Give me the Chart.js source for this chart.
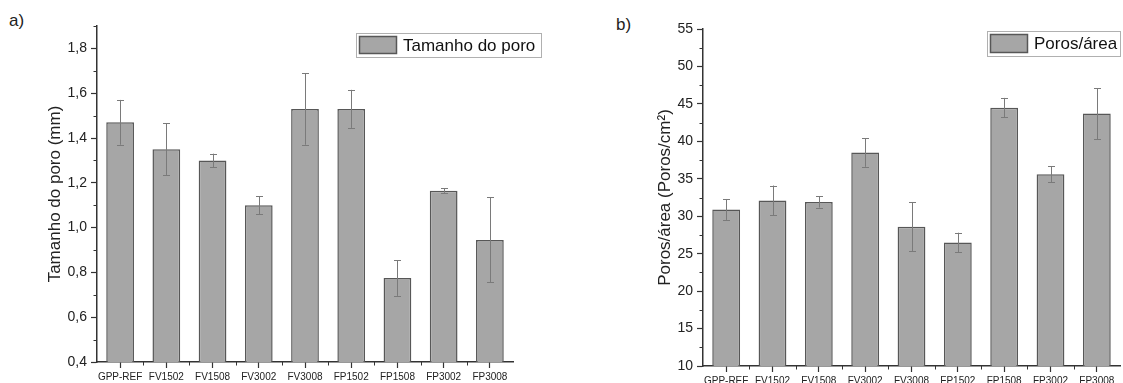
<!DOCTYPE html>
<html>
<head>
<meta charset="utf-8">
<script src="https://cdn.jsdelivr.net/npm/chart.js@4"></script>
<style>
  body { margin: 0; background: #fff; width: 1123px; height: 383px; position: relative; overflow: hidden; }
  canvas { position: absolute; top: 0; }
  .tag { position: absolute; font: 17px "Liberation Sans", Arial, sans-serif; color: #222; }
</style>
</head>
<body>
<div class="tag" style="left:9px; top:11px;">a)</div>
<div class="tag" style="left:616px; top:15px;">b)</div>
<canvas id="chartA" width="560" height="383" style="left:0"></canvas>
<canvas id="chartB" width="563" height="383" style="left:560px"></canvas>
<script>
const categories = ['GPP-REF', 'FV1502', 'FV1508', 'FV3002', 'FV3008', 'FP1502', 'FP1508', 'FP3002', 'FP3008'];

// a) Tamanho do poro (mm)
const poreSize = [1.47, 1.35, 1.30, 1.10, 1.53, 1.53, 0.775, 1.165, 0.945];
const poreSizeErr = [0.10, 0.115, 0.03, 0.04, 0.16, 0.085, 0.08, 0.01, 0.19];
const yTicksA = [0.4, 0.6, 0.8, 1.0, 1.2, 1.4, 1.6, 1.8];

// b) Poros/área (Poros/cm²)
const poresArea = [30.9, 32.1, 31.9, 38.5, 28.6, 26.5, 44.5, 35.6, 43.7];
const poresAreaErr = [1.4, 2.0, 0.75, 1.9, 3.3, 1.3, 1.3, 1.05, 3.4];
const yTicksB = [10, 15, 20, 25, 30, 35, 40, 45, 50, 55];

const FONT = '"Liberation Sans", Arial, sans-serif';
const AXIS = '#333';

// error bars drawn from the y scale
const errorBars = {
    id: 'errorBars',
    afterDatasetsDraw(chart, args, opts) {
        const ctx = chart.ctx;
        const y = chart.scales.y;
        const meta = chart.getDatasetMeta(0);
        const data = chart.data.datasets[0].data;
        ctx.save();
        ctx.strokeStyle = '#7a7a7a';
        ctx.lineWidth = 1;
        meta.data.forEach((bar, i) => {
            const top = y.getPixelForValue(data[i] + opts.errors[i]);
            const bot = y.getPixelForValue(data[i] - opts.errors[i]);
            const x = Math.round(bar.x) + 0.5;
            ctx.beginPath();
            ctx.moveTo(x, top); ctx.lineTo(x, bot);
            ctx.moveTo(x - 3.5, Math.round(top) + 0.5); ctx.lineTo(x + 3.5, Math.round(top) + 0.5);
            ctx.moveTo(x - 3.5, Math.round(bot) + 0.5); ctx.lineTo(x + 3.5, Math.round(bot) + 0.5);
            ctx.stroke();
        });
        ctx.restore();
    }
};

// minor ticks on both axes
const minorTicks = {
    id: 'minorTicks',
    afterDraw(chart) {
        const ctx = chart.ctx;
        const {x, y} = chart.scales;
        ctx.save();
        ctx.strokeStyle = AXIS;
        ctx.lineWidth = 1;
        ctx.beginPath();
        const step = y.ticks[1].value - y.ticks[0].value;
        for (let v = y.ticks[0].value + step / 2; v <= y.max + 1e-9; v += step) {
            const py = Math.round(y.getPixelForValue(v)) + 0.5;
            ctx.moveTo(y.right - 3.5, py); ctx.lineTo(y.right, py);
        }
        for (let i = 0; i < categories.length - 1; i++) {
            const px = Math.round(x.getPixelForValue(i + 0.5)) + 0.5;
            ctx.moveTo(px, x.top); ctx.lineTo(px, x.top + 3.5);
        }
        ctx.stroke();
        ctx.restore();
    }
};

// boxed legend, placed freely like in the original figure
const boxLegend = {
    id: 'boxLegend',
    afterDraw(chart, args, opts) {
        const ctx = chart.ctx;
        const ds = chart.data.datasets[0];
        ctx.save();
        ctx.strokeStyle = '#b0b0b0';
        ctx.lineWidth = 1;
        ctx.strokeRect(opts.x + 0.5, opts.y + 0.5, opts.w, opts.h);
        ctx.fillStyle = ds.backgroundColor;
        ctx.fillRect(opts.x + 3, opts.y + 3, 38, opts.h - 6);
        ctx.strokeStyle = ds.borderColor;
        ctx.lineWidth = 1.5;
        ctx.strokeRect(opts.x + 3.5, opts.y + 3.5, 37, opts.h - 7);
        ctx.fillStyle = '#111';
        ctx.font = '17px ' + FONT;
        ctx.textBaseline = 'middle';
        ctx.fillText(ds.label, opts.x + 47, opts.y + opts.h / 2 + 1);
        ctx.restore();
    }
};

function makeChart(id, label, values, errors, ticks, yMax, yTitle, geom) {
    return new Chart(document.getElementById(id), {
        type: 'bar',
        data: {
            labels: categories,
            datasets: [{
                label: label,
                data: values,
                backgroundColor: '#a6a6a6',
                borderColor: '#575757',
                borderWidth: 1.5,
                borderSkipped: false,
                barPercentage: 0.6,
                categoryPercentage: 1.0
            }]
        },
        options: {
            responsive: false,
            devicePixelRatio: 1,
            animation: false,
            layout: { padding: { top: geom.top, right: geom.right, left: 0, bottom: 0 } },
            plugins: {
                legend: { display: false },
                tooltip: { enabled: false },
                errorBars: { errors: errors },
                boxLegend: geom.legend
            },
            scales: {
                x: {
                    afterFit: s => { s.height = geom.xHeight; },
                    border: { display: true, color: AXIS, width: 1.5 },
                    grid: { display: true, offset: false, drawOnChartArea: false, drawTicks: true, tickLength: 6, tickColor: AXIS, tickWidth: 1.2 },
                    ticks: { autoSkip: false, maxRotation: 0, padding: 3, color: '#222', font: { family: FONT, size: 10 } }
                },
                y: {
                    min: ticks[0],
                    max: yMax,
                    afterFit: s => { s.width = geom.yWidth; },
                    afterBuildTicks: s => { s.ticks = ticks.map(v => ({ value: v })); },
                    border: { display: true, color: AXIS, width: 1.5 },
                    grid: { display: true, drawOnChartArea: false, drawTicks: true, tickLength: 6, tickColor: AXIS, tickWidth: 1.2 },
                    ticks: {
                        padding: 4, color: '#222', font: { family: FONT, size: 14 },
                        callback: v => (Number.isInteger(v) && ticks[0] >= 5) ? String(v) : v.toFixed(1).replace('.', ',')
                    },
                    title: { display: true, text: yTitle, color: '#222', font: { family: FONT, size: 17 }, padding: { top: geom.titlePad, bottom: 0 } }
                }
            }
        },
        plugins: [errorBars, minorTicks, boxLegend]
    });
}

makeChart('chartA', 'Tamanho do poro', poreSize, poreSizeErr, yTicksA, 1.9, 'Tamanho do poro (mm)',
    { top: 26, right: 47, xHeight: 21, yWidth: 97, titlePad: 45, legend: { x: 356, y: 33, w: 185, h: 24 } });

makeChart('chartB', 'Poros/área', poresArea, poresAreaErr, yTicksB, 55, 'Poros/área (Poros/cm²)',
    { top: 29, right: 3, xHeight: 17, yWidth: 143, titlePad: 95, legend: { x: 427, y: 31, w: 133, h: 25 } });
</script>
</body>
</html>
